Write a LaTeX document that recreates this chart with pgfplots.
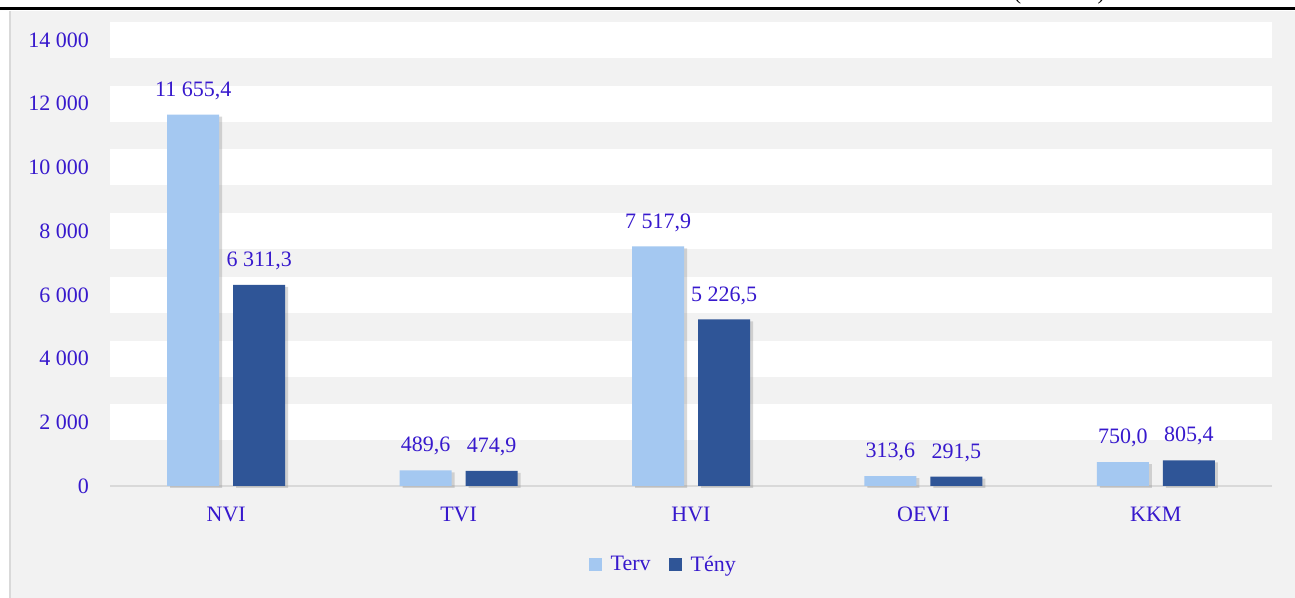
\documentclass[border=0pt]{standalone}
\usepackage{pgfplots}
\pgfplotsset{compat=1.18}
\usepackage{fontspec}
\setmainfont{Liberation Serif}
\usetikzlibrary{shadows}
\definecolor{panel}{HTML}{F2F2F2}
\definecolor{terv}{HTML}{A4C8F1}
\definecolor{teny}{HTML}{2F5597}
\definecolor{txt}{RGB}{55,25,205}
\definecolor{axgray}{HTML}{D9D9D9}
\begin{document}
\begin{tikzpicture}
\path[use as bounding box] (0,0) rectangle (647.5pt,299pt);
\clip (0,0) rectangle (647.5pt,299pt);
\fill[white] (0,0) rectangle (647.5pt,299pt);
\fill[panel] (5pt,0) rectangle (647.5pt,293.5pt);
\draw[axgray, line width=0.6pt] (5pt,0) -- (5pt,293.5pt);
\draw[black, line width=1.5pt] (0,294.8pt) -- (647.5pt,294.8pt);
\node[anchor=base, font=\fontsize{11}{13}\selectfont, inner sep=0pt] at (529.75pt,299.4pt) {(millió Ft)};
\begin{axis}[
  at={(55pt,56pt)}, anchor=south west,
  scale only axis, width=581pt, height=223pt,
  xmin=-0.5, xmax=4.5, ymin=0, ymax=14000,
  xtick={0,1,2,3,4}, xticklabels={NVI,TVI,HVI,OEVI,KKM},
  ytick={2000,4000,...,14000},
  extra y ticks={0}, extra y tick style={grid=none},
  scaled y ticks=false,
  ymajorgrids, major grid style={white, line width=18pt},
  major tick length=0pt,
  axis x line*=bottom, axis y line*=left,
  y axis line style={draw=none},
  x axis line style={draw=axgray, line width=1pt, -},
  /pgf/number format/1000 sep={\ },
  /pgf/number format/assume math mode=true,
  tick label style={font=\fontsize{11}{13}\selectfont, text=txt},
  yticklabel style={xshift=-7pt},
  xticklabel style={yshift=-7pt},
  ybar, bar width=26pt,
  nodes near coords={\pgfmathprintnumber[fixed,fixed zerofill,precision=1,use comma,1000 sep={\ }]{\pgfplotspointmeta}},
  every node near coord/.append style={font=\fontsize{11}{13}\selectfont, text=txt, yshift=4pt},
  legend style={at={(0.477,-0.177)}, anchor=center, draw=none, fill=none,
    legend columns=2, font=\fontsize{11}{13}\selectfont, text=txt,
    /tikz/every odd column/.append style={column sep=2.5pt},
    /tikz/every even column/.append style={column sep=7pt}},
  legend image code/.code={\fill[#1] (0pt,-3.25pt) rectangle (6.5pt,3.25pt);},
  clip=false,
]
\addlegendimage{fill=terv, draw=none}
\addlegendentry{Terv}
\addlegendimage{fill=teny, draw=none}
\addlegendentry{Tény}
\addplot[bar shift=-16.5pt, fill=terv, draw=none, drop shadow={shadow xshift=1.5pt, shadow yshift=-1pt, opacity=0.3}] coordinates {(0,11655.4) (1,489.6) (2,7517.9) (3,313.6) (4,750.0)};
\addplot[bar shift=16.5pt, fill=teny, draw=none, drop shadow={shadow xshift=1.5pt, shadow yshift=-1pt, opacity=0.3}] coordinates {(0,6311.3) (1,474.9) (2,5226.5) (3,291.5) (4,805.4)};
\end{axis}
\end{tikzpicture}
\end{document}
